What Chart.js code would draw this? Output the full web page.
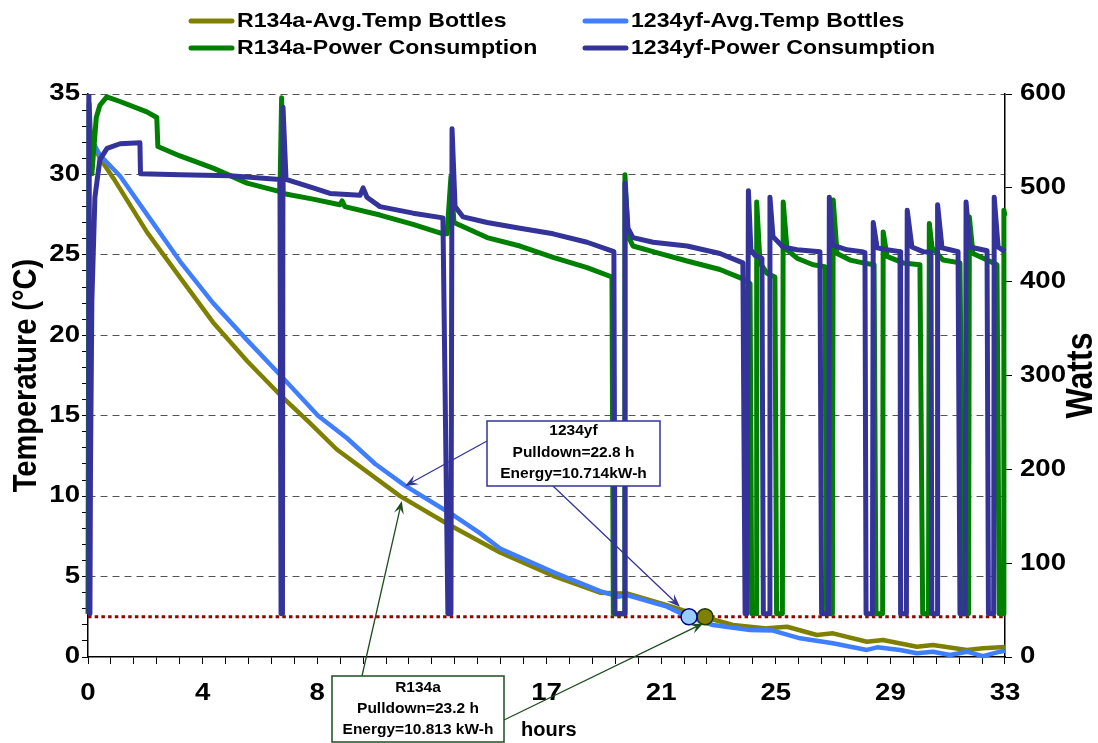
<!DOCTYPE html>
<html>
<head>
<meta charset="utf-8">
<script src="https://cdn.jsdelivr.net/npm/chart.js@4.4.1/dist/chart.umd.min.js"></script>
<style>
  html, body { margin: 0; padding: 0; background: #fff; }
</style>
</head>
<body>
<canvas id="chart" width="1098" height="743"></canvas>
<script>
const FONT = '"Liberation Sans", Arial, sans-serif';

// x axis: labelled every 5th minor tick
const xTickLabels = ['0', '4', '8', '12', '17', '21', '25', '29', '33'];
const xMax = 33.2;
const xMinorStep = 0.83;
const tempTickLabels = [0, 5, 10, 15, 20, 25, 30, 35];
const wattTickLabels = [0, 100, 200, 300, 400, 500, 600];

// bottle temperatures (°C)
const r134aTempHours = [0.18, 0.43, 0.98, 2.14, 3.33, 4.53, 5.76, 6.95, 8.0, 9.01, 11.30, 12.99, 14.92, 16.84, 18.54, 19.26, 19.51, 20.96, 22.34, 23.35, 24.58, 25.31, 26.39, 26.97, 28.20, 28.78, 30.01, 30.59, 31.82, 32.40, 33.20];
const r134aTempValues = [32.0, 31.0, 29.6, 26.4, 23.6, 20.8, 18.4, 16.3, 14.6, 12.9, 10.0, 8.3, 6.5, 5.05, 4.0, 3.95, 3.96, 3.23, 2.47, 1.99, 1.78, 1.88, 1.37, 1.47, 0.95, 1.06, 0.64, 0.75, 0.44, 0.54, 0.62];

const yfTempHours = [0.18, 0.43, 1.16, 2.14, 3.33, 4.53, 5.76, 6.95, 8.33, 9.38, 10.4, 11.48, 13.21, 14.19, 14.92, 16.84, 18.54, 19.19, 19.51, 20.96, 21.76, 22.63, 23.97, 24.80, 25.78, 26.97, 28.20, 28.57, 29.40, 30.01, 30.59, 31.21, 31.82, 32.40, 33.02, 33.20];
const yfTempValues = [32.0, 31.2, 29.9, 27.5, 24.6, 22.0, 19.7, 17.55, 15.0, 13.6, 12.0, 10.65, 8.83, 7.7, 6.74, 5.28, 4.1, 3.75, 3.85, 3.13, 2.47, 1.99, 1.68, 1.64, 1.16, 0.85, 0.44, 0.6, 0.44, 0.23, 0.33, 0.12, 0.33, 0.05, 0.33, 0.4];

// power consumption (W)
const r134aPowerHours = [0.00, 0.04, 0.14, 0.30, 0.43, 0.68, 1.16, 2.13, 2.49, 2.53, 3.33, 4.53, 5.76, 6.95, 7.01, 7.06, 8.15, 9.12, 9.20, 9.30, 10.57, 11.77, 12.85, 13.00, 13.14, 13.25, 14.45, 15.64, 16.84, 18.07, 18.97, 19.02, 19.41, 19.44, 19.55, 19.73, 20.46, 21.69, 22.88, 23.71, 23.97, 24.03, 24.19, 24.21, 24.33, 24.58, 24.87, 24.93, 25.14, 25.17, 25.31, 25.67, 26.25, 26.68, 26.74, 26.95, 26.98, 27.12, 27.59, 28.06, 28.46, 28.53, 28.77, 28.79, 28.93, 29.51, 30.12, 30.22, 30.43, 30.46, 30.56, 30.96, 31.57, 31.69, 31.88, 31.91, 32.04, 32.55, 32.91, 32.99, 33.14, 33.16, 33.20];
const r134aPowerWatts = [46, 590, 515, 575, 588, 597, 592, 581, 575, 544, 534, 521, 505, 496, 596, 494, 488, 482, 486, 480, 471, 461, 451, 451, 512, 463, 447, 438, 426, 415, 405, 46, 46, 514, 449, 438, 432, 422, 413, 403, 398, 46, 46, 485, 420, 409, 405, 46, 46, 485, 434, 425, 418, 416, 46, 46, 487, 430, 423, 420, 418, 46, 46, 453, 427, 420, 418, 46, 46, 462, 436, 423, 420, 46, 46, 469, 430, 423, 418, 46, 46, 476, 470];

const yfPowerHours = [0.00, 0.03, 0.07, 0.09, 0.14, 0.25, 0.43, 0.69, 1.16, 1.88, 1.90, 3.33, 5.14, 6.95, 6.99, 7.04, 7.06, 7.17, 8.15, 8.76, 9.85, 9.96, 10.10, 10.57, 11.77, 12.85, 13.03, 13.14, 13.18, 13.29, 13.58, 14.45, 15.64, 16.84, 18.07, 19.04, 19.08, 19.41, 19.44, 19.55, 19.73, 20.46, 21.69, 22.88, 23.71, 23.79, 23.86, 23.91, 24.00, 24.15, 24.40, 24.45, 24.66, 24.69, 24.80, 25.16, 25.67, 26.50, 26.56, 26.81, 26.84, 26.97, 27.48, 28.02, 28.13, 28.17, 28.40, 28.43, 28.57, 28.93, 29.40, 29.42, 29.63, 29.66, 29.83, 30.23, 30.52, 30.55, 30.74, 30.76, 30.92, 31.21, 31.50, 31.57, 31.76, 31.79, 31.93, 32.55, 32.60, 32.79, 32.81, 32.95, 33.20];
const yfPowerWatts = [46, 640, 46, 200, 380, 490, 530, 542, 547, 548, 515, 514, 513, 509, 46, 46, 586, 509, 500, 494, 492, 500, 490, 480, 473, 468, 46, 46, 563, 480, 469, 463, 457, 451, 442, 432, 46, 46, 505, 457, 447, 442, 438, 430, 420, 46, 46, 497, 434, 428, 425, 46, 46, 490, 448, 437, 434, 432, 46, 46, 490, 439, 434, 432, 431, 46, 46, 463, 436, 434, 432, 46, 46, 476, 437, 432, 431, 46, 46, 482, 436, 434, 432, 46, 46, 485, 437, 433, 46, 46, 490, 437, 432];

// pulldown target and reached points
const targetTemp = 2.5;
const pulldownYf = [21.76, 2.5];
const pulldownR134a = [22.34, 2.5];

const pairs = (xs, ys) => xs.map((x, i) => ({ x, y: ys[i] }));
const clip = { left: 4, top: 0, right: 4, bottom: 4 };

const datasets = [
  { label: '1234yf-Power Consumption', data: pairs(yfPowerHours, yfPowerWatts), yAxisID: 'y1',
    borderColor: '#333399', borderWidth: 5, order: 1, clip },
  { label: 'R134a-Power Consumption', data: pairs(r134aPowerHours, r134aPowerWatts), yAxisID: 'y1',
    borderColor: '#008000', borderWidth: 5, order: 2, clip },
  { label: '1234yf-Avg.Temp Bottles', data: pairs(yfTempHours, yfTempValues), yAxisID: 'y',
    borderColor: '#3f7fff', borderWidth: 4.5, order: 3, clip },
  { label: 'R134a-Avg.Temp Bottles', data: pairs(r134aTempHours, r134aTempValues), yAxisID: 'y',
    borderColor: '#808000', borderWidth: 4.5, order: 4, clip },
  { label: 'target', data: pairs([0, xMax], [targetTemp, targetTemp]), yAxisID: 'y',
    borderColor: '#990000', borderWidth: 3, borderDash: [3.5, 3.2], borderCapStyle: 'butt', order: 6, clip },
  { label: 'pulldown 1234yf', data: [{ x: pulldownYf[0], y: pulldownYf[1] }], yAxisID: 'y', showLine: false,
    pointRadius: 8, pointBackgroundColor: '#99ccff', pointBorderColor: '#000080', pointBorderWidth: 1.5, order: 0 },
  { label: 'pulldown R134a', data: [{ x: pulldownR134a[0], y: pulldownR134a[1] }], yAxisID: 'y', showLine: false,
    pointRadius: 8, pointBackgroundColor: '#808000', pointBorderColor: '#1d3a00', pointBorderWidth: 1.5, order: 0 },
];

// legend: [dataset index, column, row]
const legendLayout = [[3, 0, 0], [2, 1, 0], [1, 0, 1], [0, 1, 1]];

const callouts = [
  { lines: ['1234yf', 'Pulldown=22.8 h', 'Energy=10.714kW-h'], rect: [487, 421, 173, 65], lineYs: [431, 453, 474],
    color: '#333399', size: 15.5, arrows: [{ from: [487, 441], to: [11.48, 10.63] }, { from: [553, 486], to: [21.43, 3.13] }] },
  { lines: ['R134a', 'Pulldown=23.2 h', 'Energy=10.813 kW-h'], rect: [332, 676, 172, 66], lineYs: [688, 709, 730],
    color: '#1e4d1e', size: 15.5, arrows: [{ from: [362, 676], to: [11.36, 9.70] }, { from: [504, 720], to: [22.28, 2.1] }] },
];

function drawArrow(ctx, x0, y0, x1, y1, color) {
  const a = Math.atan2(y1 - y0, x1 - x0), c = Math.cos(a), s = Math.sin(a);
  const L = 13, W = 5;
  ctx.strokeStyle = color; ctx.fillStyle = color; ctx.lineWidth = 1.3;
  ctx.beginPath(); ctx.moveTo(x0, y0); ctx.lineTo(x1 - c * L * 0.6, y1 - s * L * 0.6); ctx.stroke();
  ctx.beginPath();
  ctx.moveTo(x1, y1);
  ctx.lineTo(x1 - L * c + W * s, y1 - L * s - W * c);
  ctx.lineTo(x1 - 0.6 * L * c, y1 - 0.6 * L * s);
  ctx.lineTo(x1 - L * c - W * s, y1 - L * s + W * c);
  ctx.closePath(); ctx.fill();
}

// text a little wider than the font, as in the source picture
function wideText(ctx, t, x, y, sx) {
  ctx.save();
  ctx.translate(x, y);
  ctx.scale(sx, 1);
  ctx.fillText(t, 0, 0);
  ctx.restore();
}

const extras = {
  id: 'extras',
  afterDraw(chart) {
    const { ctx, scales: { x, y, y1 } } = chart;
    ctx.save();
    ctx.fillStyle = '#000';

    // tick labels
    ctx.font = 'bold 23px ' + FONT;
    ctx.textBaseline = 'middle';
    ctx.textAlign = 'right';
    tempTickLabels.forEach(v => wideText(ctx, String(v), 80, y.getPixelForValue(v), 1.2));
    ctx.textAlign = 'left';
    wattTickLabels.forEach(v => wideText(ctx, String(v), 1020, y1.getPixelForValue(v), 1.2));
    ctx.textAlign = 'center';
    xTickLabels.forEach((t, i) => wideText(ctx, t, x.getPixelForValue(i * 5 * xMinorStep), 694, 1.2));

    // legend
    ctx.font = 'bold 21px ' + FONT;
    ctx.textAlign = 'left';
    legendLayout.forEach(([i, col, row]) => {
      const ds = chart.data.datasets[i];
      const lx = [191, 585][col], ly = [21, 48][row];
      ctx.strokeStyle = ds.borderColor; ctx.lineWidth = 5; ctx.lineCap = 'round';
      ctx.beginPath(); ctx.moveTo(lx, ly); ctx.lineTo(lx + 41, ly); ctx.stroke();
      wideText(ctx, ds.label, lx + 46, ly, 1.1);
    });
    ctx.lineCap = 'butt';

    // axis titles, reading bottom to top
    ctx.textAlign = 'center';
    [['Temperature (°C)', 27, 29], ['Watts', 1082, 32]].forEach(([t, tx, size]) => {
      ctx.save();
      ctx.font = `bold ${size}px ` + FONT;
      ctx.translate(tx, (y.top + y.bottom) / 2);
      ctx.rotate(-Math.PI / 2);
      ctx.scale(1, 1.15);
      ctx.fillText(t, 0, 0);
      ctx.restore();
    });
    ctx.font = 'bold 20px ' + FONT;
    ctx.textAlign = 'left';
    ctx.textBaseline = 'alphabetic';
    ctx.fillText('hours', 521, 736);

    // callouts
    callouts.forEach(co => {
      co.arrows.forEach(ar => {
        drawArrow(ctx, ar.from[0], ar.from[1], x.getPixelForValue(ar.to[0]), y.getPixelForValue(ar.to[1]), co.color);
      });
      const [bx, by, bw, bh] = co.rect;
      ctx.fillStyle = '#fff';
      ctx.fillRect(bx, by, bw, bh);
      ctx.strokeStyle = co.color; ctx.lineWidth = 1.5;
      ctx.strokeRect(bx, by, bw, bh);
      ctx.fillStyle = '#000';
      ctx.font = `bold ${co.size}px ` + FONT;
      ctx.textAlign = 'center';
      ctx.textBaseline = 'middle';
      co.lines.forEach((t, k) => ctx.fillText(t, bx + bw / 2, co.lineYs[k]));
    });
    ctx.restore();
  }
};

new Chart(document.getElementById('chart'), {
  type: 'line',
  data: { datasets },
  options: {
    responsive: false,
    animation: false,
    layout: { padding: { top: 94, left: 0, right: 0, bottom: 0 } },
    elements: { point: { radius: 0 }, line: { tension: 0, borderJoinStyle: 'round' } },
    plugins: { legend: { display: false }, tooltip: { enabled: false } },
    scales: {
      x: {
        type: 'linear', min: 0, max: xMax,
        afterBuildTicks: s => { s.ticks = xTickLabels.flatMap((_, i) => [0, 1, 2, 3, 4].map(k => ({ value: (i * 5 + k) * xMinorStep }))).filter(t => t.value <= xMax + 1e-6); },
        afterFit: s => { s.height = 86; },
        ticks: { display: false, autoSkip: false },
        grid: { drawOnChartArea: false, tickLength: 7, tickColor: '#000', tickWidth: 1 },
        border: { color: '#000', width: 1.5 },
      },
      y: {
        position: 'left', min: 0, max: 35,
        afterFit: s => { s.width = 88; },
        ticks: { display: false, stepSize: 1, autoSkip: false },
        grid: {
          color: c => (c.tick && c.tick.value % 5 === 0 && c.tick.value > 0 ? '#555' : 'rgba(0,0,0,0)'),
          lineWidth: 1, tickColor: '#000', tickLength: 6,
        },
        border: { color: '#000', width: 1.5, dash: [7, 5] },
      },
      y1: {
        position: 'right', min: 0, max: 600,
        afterFit: s => { s.width = 93; },
        ticks: { display: false, stepSize: 100 },
        grid: { drawOnChartArea: false, tickLength: 7, tickColor: '#000' },
        border: { color: '#000', width: 1.5 },
      },
    },
  },
  plugins: [extras],
});
</script>
</body>
</html>
